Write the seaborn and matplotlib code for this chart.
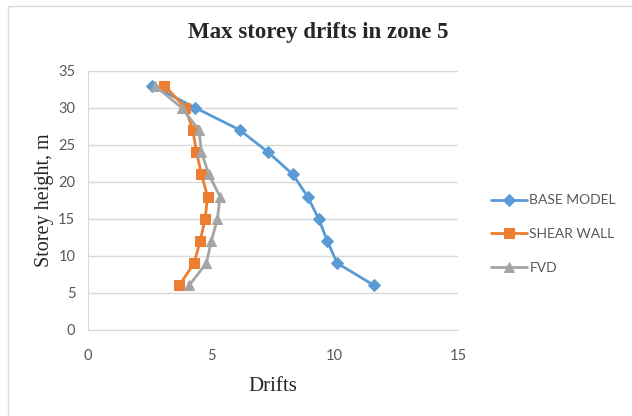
import pandas as pd
import matplotlib
matplotlib.use("Agg")
import matplotlib.pyplot as plt
import seaborn as sns

# storey heights (m) and max drifts
heights = [33, 30, 27, 24, 21, 18, 15, 12, 9, 6]
base_model = [2.6, 4.35, 6.15, 7.3, 8.3, 8.9, 9.35, 9.7, 10.1, 11.6]
shear_wall = [3.1, 3.95, 4.25, 4.4, 4.6, 4.85, 4.75, 4.55, 4.3, 3.7]
fvd = [2.7, 3.8, 4.5, 4.6, 4.9, 5.35, 5.25, 5.0, 4.8, 4.1]
series_names = ["BASE MODEL", "SHEAR WALL", "FVD"]

df = pd.concat([
    pd.DataFrame({"height": heights, "drift": vals, "series": name})
    for name, vals in zip(series_names, [base_model, shear_wall, fvd])
])

sns.set_style("white")
plt.rcParams['font.family'] = ['Lato', 'DejaVu Sans']

palette = {"BASE MODEL": "#5B9BD5", "SHEAR WALL": "#ED7D31", "FVD": "#A5A5A5"}
markers = {"BASE MODEL": "D", "SHEAR WALL": "s", "FVD": "^"}
msizes = {"BASE MODEL": 6, "SHEAR WALL": 7, "FVD": 7}

fig = plt.figure(figsize=(6.32, 4.16), dpi=100)
ax = fig.add_axes([0.139, 0.207, 0.586, 0.623])

for name in series_names:
    sub = df[df["series"] == name]
    sns.lineplot(data=sub, x="drift", y="height", orient="y", ax=ax,
                 color=palette[name], marker=markers[name], markersize=msizes[name],
                 markeredgecolor=palette[name], linewidth=2, label=name)

ax.set_xlim(0, 15)
ax.set_ylim(0, 35)
ax.set_xticks([0, 5, 10, 15])
ax.set_yticks(range(0, 36, 5))
ax.yaxis.grid(True, color="#d9d9d9", linewidth=1)
ax.xaxis.grid(False)
for side in ["top", "right"]:
    ax.spines[side].set_visible(False)
for side in ["left", "bottom"]:
    ax.spines[side].set_color("#d9d9d9")
ax.tick_params(axis="both", length=0, labelsize=10.5, labelcolor="#595959")
ax.tick_params(axis="x", pad=14)
ax.tick_params(axis="y", pad=9)

serif = ['Liberation Serif', 'DejaVu Serif']
fig.text(0.503, 0.922, "Max storey drifts in zone 5", fontsize=16.5, fontweight="bold",
         family=serif, ha="center", va="center")
ax.set_xlabel("Drifts", fontsize=15, family=serif, labelpad=10)
ax.set_ylabel("Storey height, m", fontsize=14.5, family=serif, labelpad=3)

ax.legend(loc="center left", bbox_to_anchor=(1.055, 0.37), frameon=False,
          fontsize=10, labelspacing=1.55, handlelength=2.6, handletextpad=0.15,
          labelcolor="#595959")

fig.patches.append(plt.Rectangle((0.013, -0.01), 1.0, 0.995, transform=fig.transFigure,
                                 fill=False, edgecolor="#d9d9d9", linewidth=1))

plt.savefig("out.png", dpi=100)
